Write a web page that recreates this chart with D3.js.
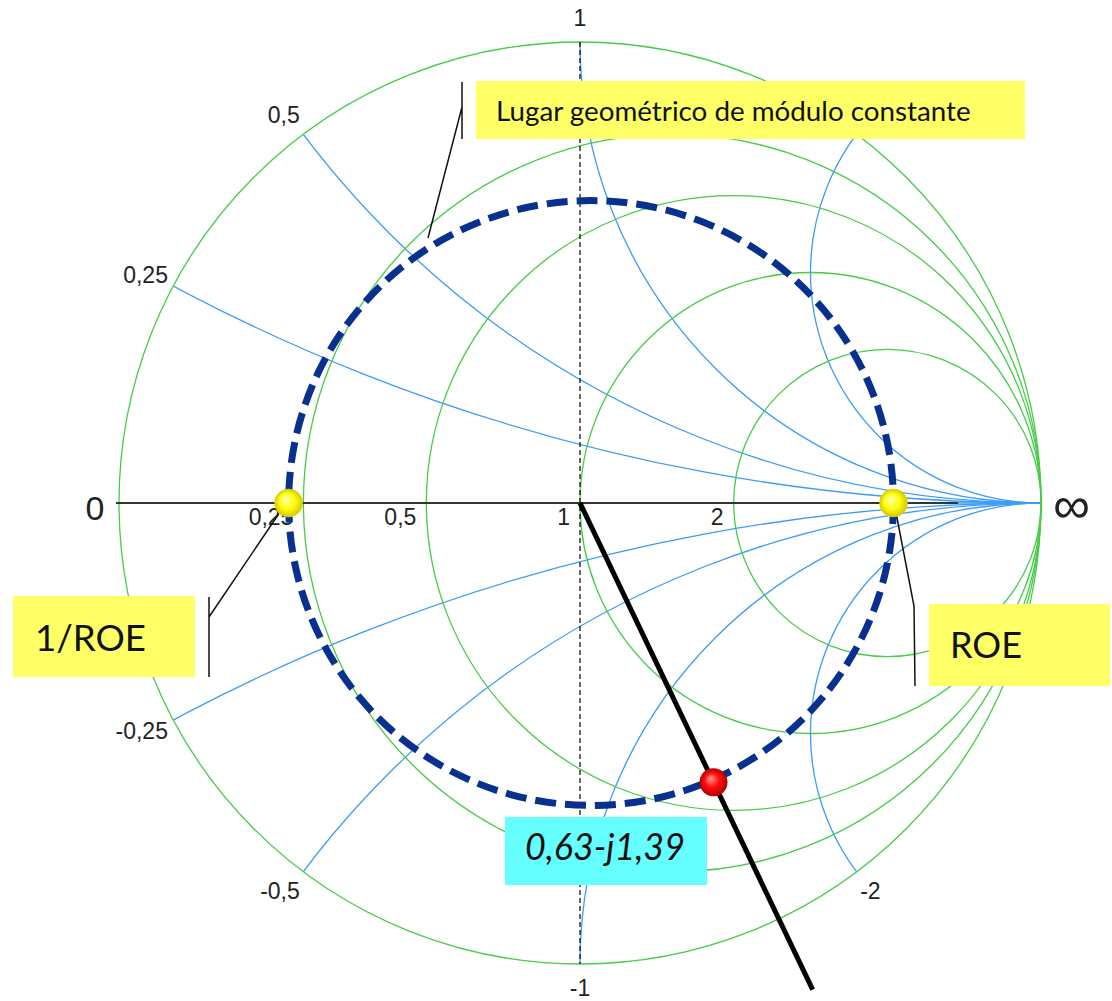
<!DOCTYPE html>
<html>
<head>
<meta charset="utf-8">
<script src="https://cdn.jsdelivr.net/npm/d3@7"></script>
<style>
  html, body { margin: 0; padding: 0; background: #fff; }
  svg { display: block; }
</style>
</head>
<body>
<svg id="chart" width="1112" height="1001"></svg>
<script>
// Smith chart grid values
const resistanceValues = [0, 0.25, 0.5, 1, 2];
const reactanceValues = [0.25, 0.5, 1, 2, -0.25, -0.5, -1, -2];

// Labels around the rim (normalised reactance) and along the real axis (resistance)
const rimTickValues = [1, 0.5, 0.25, -0.25, -0.5, -1, -2];
const rimTickLabels = ["1", "0,5", "0,25", "-0,25", "-0,5", "-1", "-2"];
const axisTickValues = [0.25, 0.5, 1, 2];
const axisTickLabels = ["0,25", "0,5", "1", "2"];

// Load impedance (normalised) and its label
const loadRe = 0.63;
const loadIm = -1.39;
const loadLabel = "0,63-j1,39";

// Constant-modulus locus: where it crosses the real axis (reflection coefficient)
const locusCrossings = [-0.632, 0.680];

// Callout texts
const locusText = "Lugar geométrico de módulo constante";
const minText = "1/ROE";
const maxText = "ROE";

// ---- layout ----
const svg = d3.select("#chart");
const cx = 580, cy = 503, R = 461;
const gx = d3.scaleLinear().domain([-1, 1]).range([cx - R, cx + R]);
const gy = d3.scaleLinear().domain([-1, 1]).range([cy + R, cy - R]);
const len = v => gx(v) - gx(0);

const GREEN = "#46cc46", BLUE = "#3a9cf5";

const defs = svg.append("defs");
defs.append("clipPath").attr("id", "unit")
  .append("circle").attr("cx", gx(0)).attr("cy", gy(0)).attr("r", len(1));

const yg = defs.append("radialGradient").attr("id", "ydot").attr("fx", "38%").attr("fy", "35%");
yg.append("stop").attr("offset", "0%").attr("stop-color", "#ffffb0");
yg.append("stop").attr("offset", "55%").attr("stop-color", "#ffff10");
yg.append("stop").attr("offset", "100%").attr("stop-color", "#d6c800");
const rg = defs.append("radialGradient").attr("id", "rdot").attr("fx", "38%").attr("fy", "35%");
rg.append("stop").attr("offset", "0%").attr("stop-color", "#ff9a9a");
rg.append("stop").attr("offset", "50%").attr("stop-color", "#ff1010");
rg.append("stop").attr("offset", "100%").attr("stop-color", "#b80000");

const grid = svg.append("g").attr("clip-path", "url(#unit)");

// reactance arcs: centre (1, 1/x), radius 1/|x|
grid.selectAll("circle.x").data(reactanceValues).join("circle")
  .attr("class", "x")
  .attr("cx", gx(1)).attr("cy", d => gy(1 / d)).attr("r", d => len(1 / Math.abs(d)))
  .attr("fill", "none").attr("stroke", BLUE).attr("stroke-width", 1.3);

// x = 0 line
grid.append("line")
  .attr("x1", gx(-1)).attr("x2", gx(1)).attr("y1", gy(0)).attr("y2", gy(0))
  .attr("stroke", BLUE).attr("stroke-width", 1.5);

// resistance circles: centre (r/(1+r), 0), radius 1/(1+r)
svg.append("g").selectAll("circle").data(resistanceValues).join("circle")
  .attr("cx", d => gx(d / (1 + d))).attr("cy", gy(0)).attr("r", d => len(1 / (1 + d)))
  .attr("fill", "none").attr("stroke", GREEN).attr("stroke-width", 1.3);

// imaginary axis (dashed) and real axis
svg.append("line")
  .attr("x1", gx(0)).attr("x2", gx(0)).attr("y1", gy(1)).attr("y2", gy(-1))
  .attr("stroke", "#111").attr("stroke-width", 1.3).attr("stroke-dasharray", "5,3");
svg.append("line")
  .attr("x1", gx(-1) - 3).attr("x2", gx(0.82)).attr("y1", gy(0)).attr("y2", gy(0))
  .attr("stroke", "#333").attr("stroke-width", 2);

// rim labels
const numFont = "'Liberation Sans', Arial, sans-serif";
const rim = rimTickValues.map((x, i) => {
  const den = 1 + x * x;
  const re = (x * x - 1) / den, im = 2 * x / den;   // (jx-1)/(jx+1)
  return { re, im, label: rimTickLabels[i] };
});
svg.append("g").selectAll("text").data(rim).join("text")
  .attr("x", d => gx(d.re) + d.re * 6)
  .attr("y", d => gy(d.im) - d.im * 24)
  .attr("text-anchor", d => d.re < -0.2 ? "end" : (d.re > 0.2 ? "start" : "middle"))
  .attr("dominant-baseline", "central")
  .attr("font-family", numFont).attr("font-size", 23).attr("fill", "#222")
  .text(d => d.label);

// axis labels
svg.append("g").selectAll("text").data(axisTickValues).join("text")
  .attr("x", d => gx((d - 1) / (d + 1)) - 10)
  .attr("y", gy(0) + 22)
  .attr("text-anchor", "end")
  .attr("font-family", numFont).attr("font-size", 23).attr("fill", "#222")
  .text((d, i) => axisTickLabels[i]);

svg.append("text").attr("x", gx(-1) - 24).attr("y", gy(0) + 17)
  .attr("text-anchor", "middle").attr("font-family", numFont).attr("font-size", 34)
  .attr("fill", "#222").text("0");
svg.append("text").attr("x", gx(1) + 12).attr("y", gy(0) + 20)
  .attr("text-anchor", "start").attr("font-family", numFont).attr("font-size", 52)
  .attr("fill", "#222").text("∞");

// constant-modulus locus
const locusC = (locusCrossings[0] + locusCrossings[1]) / 2;
const locusR = (locusCrossings[1] - locusCrossings[0]) / 2;
svg.append("circle")
  .attr("cx", gx(locusC)).attr("cy", gy(0)).attr("r", len(locusR))
  .attr("fill", "none").attr("stroke", "#08318f").attr("stroke-width", 7)
  .attr("stroke-dasharray", "21,9");

// reflection coefficient of the load
const den = (loadRe + 1) ** 2 + loadIm ** 2;
const gRe = (loadRe * loadRe + loadIm * loadIm - 1) / den;
const gIm = 2 * loadIm / den;
const gMag = Math.hypot(gRe, gIm);
const ext = 1.17 / gMag;
svg.append("line")
  .attr("x1", gx(0)).attr("y1", gy(0))
  .attr("x2", gx(gRe * ext)).attr("y2", gy(gIm * ext))
  .attr("stroke", "#000").attr("stroke-width", 5);

// callout leaders
const leader = svg.append("g").attr("stroke", "#111").attr("stroke-width", 1.5).attr("fill", "none");
leader.append("path").attr("d", "M462,82 L462,139 M462,107 L428,238");
leader.append("path").attr("d", `M${gx(locusCrossings[0]) - 10},${gy(0) + 11} L209,617 M209,597 L209,677`);
leader.append("path").attr("d", `M${gx(locusCrossings[1]) + 3},${gy(0) + 12} L914,606 L915,686`);

// callout boxes
function callout(x, y, w, h, fill, text, tx, ty, tw, italic) {
  svg.append("rect").attr("x", x).attr("y", y).attr("width", w).attr("height", h).attr("fill", fill);
  const t = svg.append("text").attr("x", tx).attr("y", ty)
    .attr("font-family", "Lato, 'Open Sans', sans-serif")
    .attr("font-style", italic ? "italic" : "normal")
    .attr("font-size", 20).attr("fill", "#111").text(text);
  const w0 = t.node().getComputedTextLength();
  t.attr("font-size", 20 * tw / w0);
}
callout(476, 81, 549, 58, "#ffff66", locusText, 496, 121, 475, false);
callout(13, 596, 182, 81, "#ffff66", minText, 35, 651, 111, false);
callout(929, 604, 181, 82, "#ffff66", maxText, 950, 658, 72, false);
callout(505, 817, 202, 68, "#66ffff", loadLabel, 525, 860, 160, true);

// markers
svg.append("g").selectAll("circle").data(locusCrossings).join("circle")
  .attr("cx", d => gx(d)).attr("cy", gy(0)).attr("r", 14)
  .attr("fill", "url(#ydot)").attr("stroke", "#e0d000").attr("stroke-width", 0.5);
svg.append("circle").attr("cx", gx(gRe)).attr("cy", gy(gIm)).attr("r", 14)
  .attr("fill", "url(#rdot)");
</script>
</body>
</html>
